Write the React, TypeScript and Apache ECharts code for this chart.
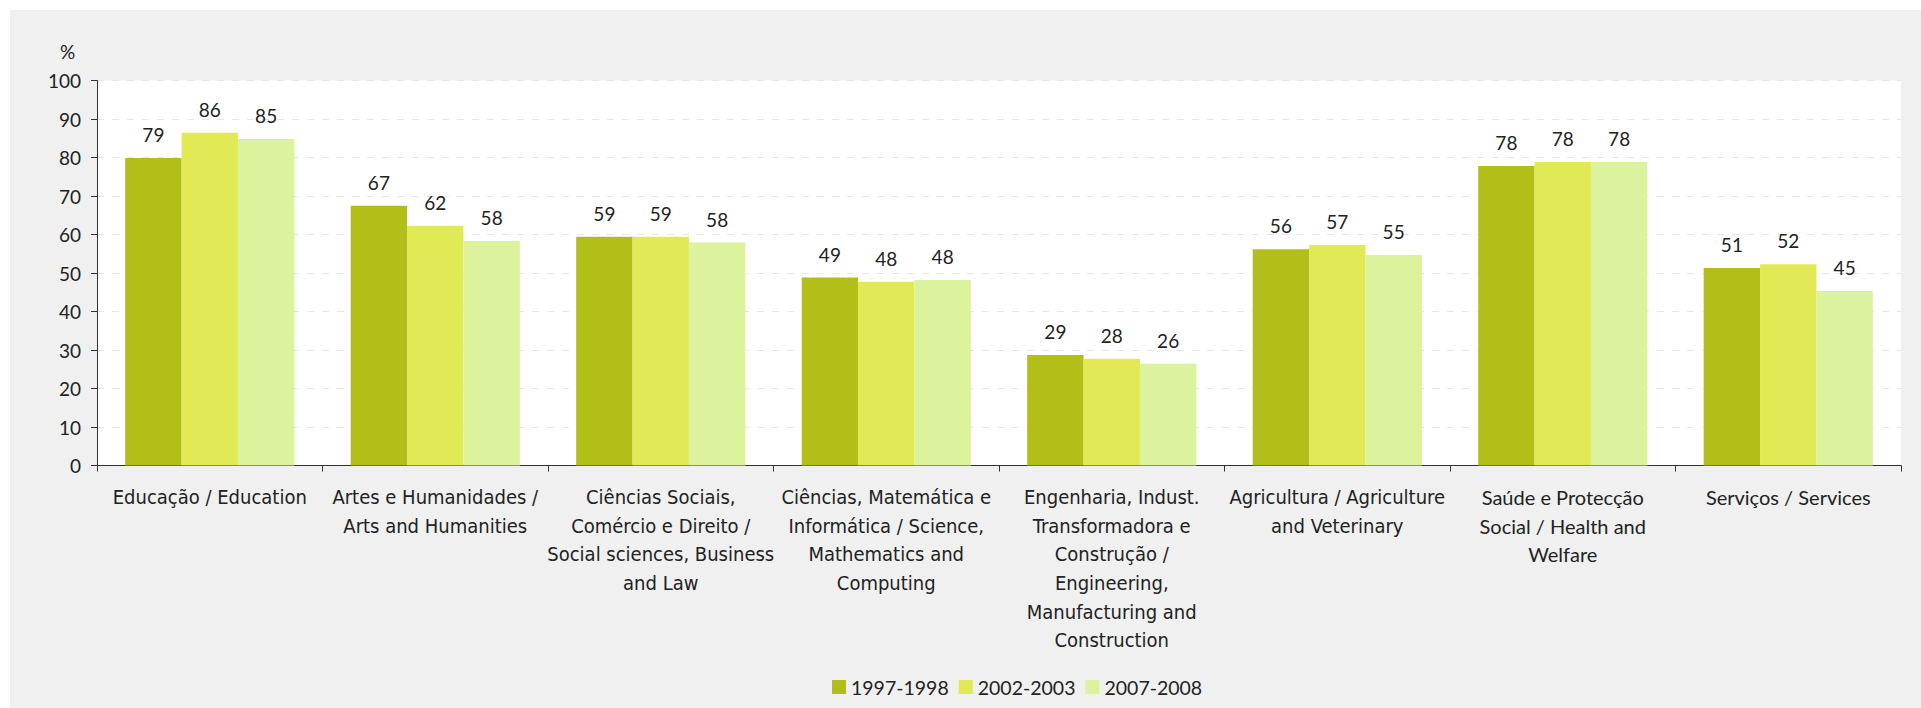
import React, { useEffect, useRef } from "react";
import * as echarts from "echarts";

const categories = [
  "Educação / Education",
  "Artes e Humanidades /\nArts and Humanities",
  "Ciências Sociais,\nComércio e Direito /\nSocial sciences, Business\nand Law",
  "Ciências, Matemática e\nInformática / Science,\nMathematics and\nComputing",
  "Engenharia, Indust.\nTransformadora e\nConstrução /\nEngineering,\nManufacturing and\nConstruction",
  "Agricultura / Agriculture\nand Veterinary",
  "Saúde e Protecção\nSocial / Health and\nWelfare",
  "Serviços / Services",
];
// categories drawn in the wider font in the source
const wideFontCategories = [6, 7];

const seriesNames = ["1997-1998", "2002-2003", "2007-2008"];

// bar heights
const values1997 = [79.9, 67.5, 59.4, 48.8, 28.7, 56.2, 77.8, 51.3];
const values2002 = [86.4, 62.3, 59.4, 47.7, 27.7, 57.3, 78.8, 52.3];
const values2007 = [84.8, 58.3, 57.9, 48.2, 26.4, 54.7, 78.8, 45.3];

// printed data labels
const labels1997 = [79, 67, 59, 49, 29, 56, 78, 51];
const labels2002 = [86, 62, 59, 48, 28, 57, 78, 52];
const labels2007 = [85, 58, 58, 48, 26, 55, 78, 45];

const yTicks = { min: 0, max: 100, interval: 10 };

const colors = ["#b2bf18", "#e1e955", "#dcf29c"];

const narrowFont = "'Liberation Sans Narrow', 'DejaVu Sans Condensed', 'Arial Narrow', sans-serif";
const roundFont = "Lato, 'Noto Sans', sans-serif";

export default function App() {
  const ref = useRef<HTMLDivElement>(null);

  useEffect(() => {
    if (!ref.current) return;
    const chart = echarts.init(ref.current, undefined, { renderer: "svg" });
    const allValues = [values1997, values2002, values2007];
    const allLabels = [labels1997, labels2002, labels2007];

    chart.setOption({
      animation: false,
      backgroundColor: "#f0f0f0",
      grid: {
        left: 87,
        right: 20,
        top: 70.5,
        bottom: 242.5,
        show: true,
        backgroundColor: "#ffffff",
        borderWidth: 0,
        containLabel: false,
      },
      legend: {
        left: 817,
        top: 662,
        itemWidth: 14,
        itemHeight: 14,
        itemGap: 10,
        icon: "rect",
        data: seriesNames,
        textStyle: { fontFamily: roundFont, fontSize: 19.5, color: "#222" },
      },
      graphic: [
        {
          type: "text",
          left: 50,
          top: 32,
          style: { text: "%", font: `19px ${roundFont}`, fill: "#222" },
        },
      ],
      xAxis: {
        type: "category",
        data: categories.map((c, i) =>
          wideFontCategories.includes(i)
            ? { value: c, textStyle: { fontFamily: roundFont, fontSize: 20 } }
            : { value: c }
        ),
        axisLine: { show: true, lineStyle: { color: "#333", width: 1 } },
        axisTick: { show: true, interval: 0, length: 6, lineStyle: { color: "#333" } },
        axisLabel: {
          interval: 0,
          margin: 17,
          fontFamily: narrowFont,
          fontSize: 20,
          lineHeight: 28.7,
          color: "#222",
          align: "center",
        },
        splitLine: { show: false },
      },
      yAxis: {
        type: "value",
        min: yTicks.min,
        max: yTicks.max,
        interval: yTicks.interval,
        axisLine: { show: true, lineStyle: { color: "#333", width: 1 } },
        axisTick: { show: true, length: 6, lineStyle: { color: "#333" } },
        axisLabel: { margin: 16, fontFamily: roundFont, fontSize: 19, color: "#222" },
        splitLine: {
          show: true,
          lineStyle: { color: "#e6e6e6", type: [7, 8], width: 1 },
        },
      },
      series: seriesNames.map((name, si) => ({
        name,
        type: "bar",
        data: allValues[si],
        barGap: "0%",
        barCategoryGap: "25%",
        itemStyle: { color: colors[si] },
        label: {
          show: true,
          position: "top",
          distance: 14,
          fontFamily: roundFont,
          fontSize: 19,
          color: "#222",
          formatter: (p: any) => String(allLabels[si][p.dataIndex]),
        },
      })),
    });

    return () => chart.dispose();
  }, []);

  return (
    <div
      style={{
        position: "fixed",
        left: 0,
        top: 0,
        width: 1921,
        height: 708,
        background: "#ffffff",
        overflow: "hidden",
      }}
    >
      <div
        ref={ref}
        style={{ position: "absolute", left: 10, top: 10, width: 1911, height: 698 }}
      />
    </div>
  );
}
